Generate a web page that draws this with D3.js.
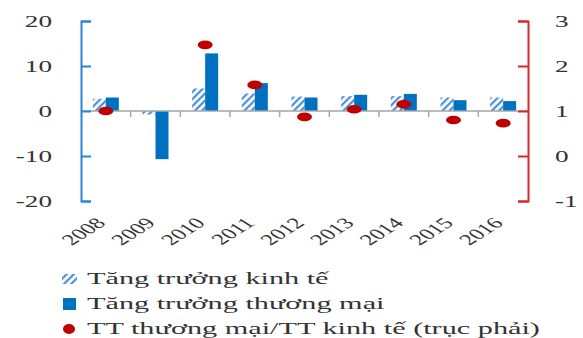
<!DOCTYPE html>
<html>
<head>
<meta charset="utf-8">
<script src="https://cdn.jsdelivr.net/npm/d3@7"></script>
<style>
  html, body { margin: 0; padding: 0; background: #fff; }
  svg { display: block; }
  text { font-family: "Liberation Serif", "Times New Roman", serif; fill: #333; }
</style>
</head>
<body>
<svg id="chart" width="583" height="338"></svg>
<script>
// Growth figures (%), 2008–2016
const years = ["2008", "2009", "2010", "2011", "2012", "2013", "2014", "2015", "2016"];
const gdpGrowth   = [2.7, -0.8, 5.0, 3.9, 3.2, 3.3, 3.3, 3.0, 3.0];
const tradeGrowth = [3.0, -10.7, 12.8, 6.2, 3.0, 3.6, 3.8, 2.4, 2.2];
// Trade growth / GDP growth ratio (right axis); 2009 is off the scale
const tradeRatio  = [1.0, null, 2.47, 1.58, 0.87, 1.04, 1.15, 0.8, 0.73];

const leftTicks  = [-20, -10, 0, 10, 20];
const rightTicks = [-1, 0, 1, 2, 3];
const legendLabels = [
  "Tăng trưởng kinh tế",
  "Tăng trưởng thương mại",
  "TT thương mại/TT kinh tế (trục phải)"
];

const SX = 1.6;                // horizontal text stretch
const blue = "#0070c0";
const hatchBlue = "#4a8fd8";
const red = "#c00000";
const axisBlue = "#2a86d4";
const axisRed = "#d9262b";

const svg = d3.select("#chart");
const plot = { left: 81, right: 528, top: 21, bottom: 201 };

const x = d3.scaleBand().domain(years).range([plot.left, plot.right]).padding(0);
const barW = 13;
const sub = d3.scaleBand().domain(["gdp", "trade"])
  .range([0, x.bandwidth()])
  .paddingInner(0)
  .paddingOuter((x.bandwidth() / barW - 2) / 2);
const yL = d3.scaleLinear().domain([-20, 20]).range([plot.bottom, plot.top]);
const yR = d3.scaleLinear().domain([-1, 3]).range([plot.bottom, plot.top]);

// diagonal hatch pattern for GDP growth bars
const defs = svg.append("defs");
const pat = defs.append("pattern")
  .attr("id", "hatch").attr("patternUnits", "userSpaceOnUse")
  .attr("width", 5).attr("height", 5)
  .attr("patternTransform", "rotate(45)");
pat.append("rect").attr("width", 5).attr("height", 5).attr("fill", "#fff");
pat.append("rect").attr("x", 0).attr("y", 0).attr("width", 2.2).attr("height", 5).attr("fill", hatchBlue);

// GDP growth bars (hatched)
svg.append("g").selectAll("rect").data(years).join("rect")
  .attr("x", d => x(d) + sub("gdp"))
  .attr("width", sub.bandwidth())
  .attr("y", (d, i) => yL(Math.max(0, gdpGrowth[i])))
  .attr("height", (d, i) => Math.abs(yL(gdpGrowth[i]) - yL(0)))
  .attr("fill", "url(#hatch)");

// Trade growth bars (solid)
svg.append("g").selectAll("rect").data(years).join("rect")
  .attr("x", d => x(d) + sub("trade"))
  .attr("width", sub.bandwidth())
  .attr("y", (d, i) => yL(Math.max(0, tradeGrowth[i])))
  .attr("height", (d, i) => Math.abs(yL(tradeGrowth[i]) - yL(0)))
  .attr("fill", blue);

// zero line with category separators
const zeroY = yL(0);
svg.append("line")
  .attr("x1", plot.left).attr("x2", plot.right)
  .attr("y1", zeroY).attr("y2", zeroY)
  .attr("stroke", "#a6a6a6").attr("stroke-width", 1.5);
svg.append("g").selectAll("line").data(years.slice(0, -1)).join("line")
  .attr("x1", d => x(d) + x.bandwidth()).attr("x2", d => x(d) + x.bandwidth())
  .attr("y1", zeroY).attr("y2", zeroY + 6)
  .attr("stroke", "#a6a6a6").attr("stroke-width", 1.5);

// ratio markers (right axis)
const ratioPts = years.map((d, i) => ({ year: d, v: tradeRatio[i] })).filter(p => p.v != null);
svg.append("g").selectAll("ellipse").data(ratioPts).join("ellipse")
  .attr("cx", d => x(d.year) + x.bandwidth() / 2)
  .attr("cy", d => yR(d.v))
  .attr("rx", 7.5).attr("ry", 4.3)
  .attr("fill", red);

// stretch tick labels horizontally around their anchor
function stretchLabels(g, dx) {
  g.selectAll(".tick text")
    .attr("x", 0)
    .attr("transform", `translate(${dx},0) scale(${SX},1)`);
}
const intFmt = d => String(d);

// left axis
const gL = svg.append("g").attr("transform", `translate(${plot.left},0)`)
  .call(d3.axisLeft(yL).tickValues(leftTicks).tickFormat(intFmt)
    .tickSizeInner(-10).tickSizeOuter(-10).tickPadding(29));
gL.select(".domain").attr("stroke", axisBlue).attr("stroke-width", 2);
gL.selectAll(".tick line").attr("stroke", axisBlue).attr("stroke-width", 2);
gL.selectAll(".tick text").attr("font-size", 17).attr("fill", "#333")
  .style("font-family", "Liberation Serif, serif");
stretchLabels(gL, -29);

// right axis
const gR = svg.append("g").attr("transform", `translate(${plot.right},0)`)
  .call(d3.axisRight(yR).tickValues(rightTicks).tickFormat(intFmt)
    .tickSizeInner(-10).tickSizeOuter(-10).tickPadding(27));
gR.select(".domain").attr("stroke", axisRed).attr("stroke-width", 2);
gR.selectAll(".tick line").attr("stroke", axisRed).attr("stroke-width", 2);
gR.selectAll(".tick text").attr("font-size", 17).attr("fill", "#333")
  .style("font-family", "Liberation Serif, serif");
stretchLabels(gR, 27);

// year labels, rotated
svg.append("g").selectAll("text").data(years).join("text")
  .attr("transform", d => `translate(${x(d) + x.bandwidth() / 2 + 1},224) scale(${SX},1) rotate(-45)`)
  .attr("text-anchor", "end")
  .attr("font-size", 15.5)
  .attr("fill", "#333")
  .text(d => d);

// legend
const leg = svg.append("g");
const rowY = [279, 304, 329];
leg.append("rect").attr("x", 62).attr("y", rowY[0] - 5).attr("width", 15).attr("height", 10)
  .attr("fill", "url(#hatch)");
leg.append("rect").attr("x", 63).attr("y", rowY[1] - 6).attr("width", 13).attr("height", 12)
  .attr("fill", blue);
leg.append("ellipse").attr("cx", 69).attr("cy", rowY[2]).attr("rx", 6).attr("ry", 5)
  .attr("fill", red);
leg.selectAll("text").data(legendLabels).join("text")
  .attr("transform", (d, i) => `translate(87,${rowY[i] + 5}) scale(1.78,1)`)
  .attr("font-size", 17)
  .attr("fill", "#222")
  .text(d => d);
</script>
</body>
</html>
